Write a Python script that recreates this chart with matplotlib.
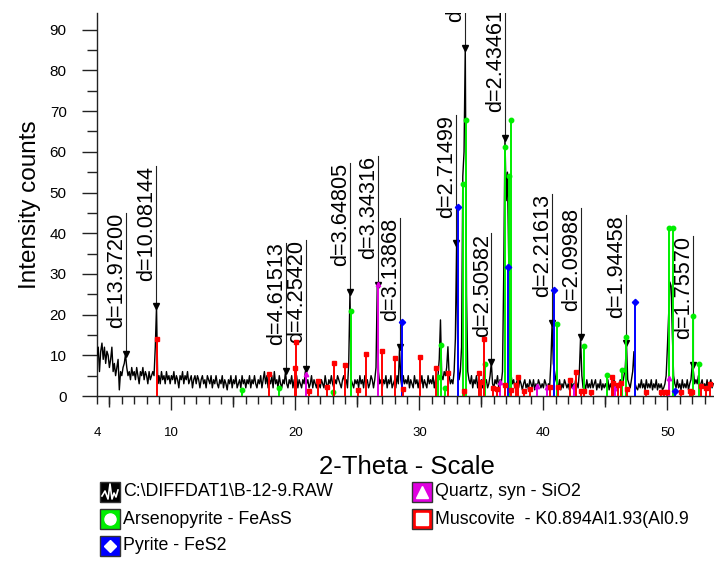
import numpy as np
import matplotlib.pyplot as plt
from matplotlib.lines import Line2D
from matplotlib.patches import Rectangle

plt.rcParams['font.family'] = ['Liberation Sans', 'DejaVu Sans']

# raw scan, 4.0 deg start, 0.1 deg step (counts)
scan_start = 4.0
scan_step = 0.1
counts = [
    10, 12, 6, 11, 13, 9, 12, 8, 11, 10,        # 4
    7, 9, 12, 6, 8, 5, 7, 9, 1.5, 6,            # 5
    5, 7, 8, 10.3, 7, 5, 6, 4, 7, 5,            # 6
    6, 4, 7, 5, 3, 6, 5, 7, 4, 6,               # 7
    5, 3, 6, 4, 5, 6, 5, 12, 22, 3,             # 8
    5, 3, 6, 4, 5, 3, 6, 4, 5, 3,               # 9
    5, 4, 6, 3, 5, 4, 2, 5, 4, 6,               # 10
    3, 5, 4, 6, 3, 4, 5, 2, 4, 5,               # 11
    3, 5, 4, 2, 4, 5, 3, 4, 2, 5,               # 12
    4, 3, 5, 2, 4, 3, 5, 3, 2, 4,               # 13
    3, 5, 2, 4, 3, 1.5, 4, 3, 5, 2,             # 14
    4, 3, 5, 2, 3, 4, 2, 5, 3, 4,               # 15
    2, 4, 3, 5, 2, 4, 3, 5, 3, 2,               # 16
    4, 3, 5, 2, 4, 6, 3, 5, 2, 4,               # 17
    3, 5, 2, 6, 3, 4, 2, 5, 3, 2,               # 18
    4, 3, 6, 3, 2, 4, 3, 5, 2, 4,               # 19
    3, 5, 2, 4, 3, 2, 4, 3, 6, 3,               # 20
    4, 2, 3, 5, 2, 4, 3, 2, 4, 3,               # 21
    2, 4, 3, 2, 5, 3, 2, 4, 3, 5,               # 22
    3, 2, 4, 3, 5, 4, 3, 2, 4, 5,               # 23
    3, 4, 2, 8, 25.6, 4, 3, 2, 4, 3,            # 24
    4, 2, 5, 3, 4, 2, 5, 3, 4, 2,               # 25
    3, 5, 4, 2, 4, 7, 27, 6, 3, 4,              # 26
    2, 4, 3, 5, 2, 4, 3, 5, 2, 3,               # 27
    4, 2, 5, 3, 12, 4, 2, 5, 3, 4,              # 28
    3, 5, 2, 4, 3, 2, 5, 3, 4, 2,               # 29
    4, 3, 5, 2, 4, 3, 2, 5, 3, 4,               # 30
    3, 5, 2, 4, 3, 5, 9, 18.7, 5, 4,            # 31
    6, 5, 7, 12.1, 5, 3, 4, 3, 6, 14,           # 32
    37.5, 9, 4, 6, 12, 54, 60, 86, 25, 6,       # 33
    4, 3, 5, 2, 4, 3, 5, 2, 4, 3,               # 34
    4, 2, 6, 3, 4, 2, 3, 5, 8.3, 3,             # 35
    2, 4, 3, 5, 2, 4, 3, 6, 30, 63.5,           # 36
    48, 55, 34, 10, 5, 3, 4, 2, 3, 4,           # 37
    2, 4, 3, 1.5, 3, 4, 2, 3, 1.5, 4,           # 38
    3, 2, 4, 1.5, 3, 2, 4, 3, 2, 3,             # 39
    2, 4, 3, 1.5, 3, 2, 8, 17.9, 8, 6,          # 40
    4, 3, 2, 4, 1.5, 3, 2, 4, 3, 2,             # 41
    3, 1.5, 4, 2, 3, 2, 4, 3, 2, 6,             # 42
    14.6, 5, 2, 3, 1.5, 4, 2, 3, 2, 4,          # 43
    2, 3, 4, 1.5, 3, 2, 4, 1.5, 3, 2,           # 44
    3, 2, 4, 1.5, 3, 2, 3, 4, 2, 3,             # 45
    2, 3, 4, 2, 3, 5, 7, 12.9, 4, 3,            # 46
    2, 4, 6, 10.9, 3, 2, 1.5, 3, 2, 4,          # 47
    2, 3, 1.5, 4, 2, 3, 2, 4, 1.5, 3,           # 48
    2, 4, 1.5, 3, 2, 3, 1.5, 2, 3, 5,           # 49
    12, 20, 28, 27, 15, 5, 3, 2, 4, 2,          # 50
    3, 1.5, 4, 2, 3, 2, 4, 1.5, 3, 4,           # 51
    7.6, 6, 3, 4, 3, 5, 2, 3, 4, 2,             # 52
    3, 2, 4, 1.5, 3, 4, 2, 3,                   # 53
]
two_theta = scan_start + scan_step * np.arange(len(counts))

# peak labels
peak_labels = ["d=13.97200", "d=10.08144", "d=4.61513", "d=4.25420", "d=3.64805",
               "d=3.34316", "d=3.13868", "d=2.71499", "d=2.65910", "d=2.50582",
               "d=2.43461", "d=2.21613", "d=2.09988", "d=1.94458", "d=1.75570"]
peak_2theta = [6.32, 8.77, 19.22, 20.86, 24.38, 26.64, 28.41, 32.97, 33.68, 35.80,
               36.89, 40.68, 43.04, 46.67, 52.05]
peak_counts = [10.3, 22, 6.1, 6.6, 25.6, 27.3, 12.1, 37.5, 85.6, 8.3,
               63.5, 17.9, 14.6, 12.9, 7.6]

# reference phases (stick patterns)
arseno_pos = [15.7, 18.7, 23.0, 24.48, 31.52, 31.72, 32.06, 33.55, 33.76, 35.3, 36.87,
              37.2, 37.39, 41.1, 43.27, 45.15, 46.3, 46.7, 50.15, 50.47, 52.1, 52.55]
arseno_int = [1.5, 2, 1, 21, 4.7, 12.5, 2, 52, 67.8, 7.9, 61.3,
              54, 67.8, 17.7, 12.4, 5.2, 6.4, 14.4, 41.2, 41.2, 19.7, 7.8]
pyrite_pos = [28.6, 33.14, 37.12, 40.85, 47.4, 50.6]
pyrite_int = [18.3, 46.5, 31.8, 26, 23.2, 1.2]
quartz_pos = [20.86, 26.64, 36.54, 39.46, 40.29, 42.45, 45.79, 50.14]
quartz_int = [5.4, 27.5, 3.5, 2.5, 2.1, 2.5, 1.9, 4.3]
musc_pos = [8.85, 17.9, 19.95, 20.05, 21.1, 21.8, 22.57, 23.1, 24.0, 25.02, 25.7, 26.96,
            28.02, 28.7, 30.05, 31.37, 32.3, 33.57, 34.8, 35.0, 35.22, 35.9, 36.25, 36.9,
            37.39, 37.76, 37.98, 38.44, 38.9, 40.5, 41.15, 42.15, 42.6, 43.0, 43.27, 43.8,
            45.5, 45.62, 46.0, 46.26, 46.72, 48.3, 49.5, 49.75, 50.0, 51.1, 51.8, 52.0,
            52.74, 53.1, 53.4]
musc_int = [14, 5.4, 6.9, 13.3, 1.3, 3.7, 2.1, 8, 7.6, 1.5, 10.2, 11,
            9.4, 1.6, 9.7, 6.8, 5.6, 1.2, 5.7, 3.5, 13.9, 2, 1.7, 2.7,
            1.5, 2.7, 4.7, 1.3, 1.6, 2.1, 2.1, 3.9, 6.0, 1.2, 1.3, 1.0,
            4.6, 3.3, 2.7, 3.2, 1.6, 1.0, 1.0, 1.0, 1.0, 1.0, 1.2, 1.0,
            2.5, 2.0, 3.0]

phases = [
    ("Arsenopyrite - FeAsS", arseno_pos, arseno_int, '#00ee00', 'o'),
    ("Pyrite - FeS2", pyrite_pos, pyrite_int, '#0000ff', 'D'),
    ("Quartz, syn - SiO2", quartz_pos, quartz_int, '#e000e0', '^'),
    ("Muscovite  - K0.894Al1.93(Al0.9", musc_pos, musc_int, '#ff0000', 's'),
]

W, H = 714, 562
fig = plt.figure(figsize=(W / 100, H / 100), dpi=100)
ax = fig.add_axes([97 / W, 1 - 396 / H, 1 - 97 / W, (396 - 13) / H])

ax.plot(two_theta, counts, color='black', lw=1.0, zorder=3)

for name, pos, inten, col, mk in phases:
    ax.vlines(pos, 0, inten, color=col, lw=1.4, zorder=4)
    ax.plot(pos, inten, ls='none', marker=mk, color=col, ms=3.2, zorder=4)

ax.plot(peak_2theta, peak_counts, ls='none', marker='v', color='black', ms=4, zorder=3.5)
texts = []
for lab, tt, h in zip(peak_labels, peak_2theta, peak_counts):
    t = ax.annotate(lab, (tt, h), xytext=(1, 18.5), textcoords='offset points',
                    rotation=90, ha='right', va='bottom', fontsize=15.6,
                    annotation_clip=False, clip_on=True)
    texts.append(t)

ax.set_xlim(4, 4 + (W - 97) / 12.4)
ax.set_ylim(0, (396 - 13) / 4.07)

for s in ['top', 'right']:
    ax.spines[s].set_visible(False)
for s in ['left', 'bottom']:
    ax.spines[s].set_color('#222222')
    ax.spines[s].set_linewidth(1)

ax.set_yticks(np.arange(0, 91, 10))
ax.set_yticks(np.arange(5, 90, 10), minor=True)
ax.tick_params(axis='y', which='major', length=10.8, width=1, pad=11, labelsize=11, colors='#222222')
ax.tick_params(axis='y', which='minor', length=7, width=1, colors='#222222')
ax.set_xticks([4, 10, 20, 30, 40, 50])
ax.set_xticks(np.arange(5, 54, 1), minor=True)
ax.tick_params(axis='x', which='major', length=10, width=1, pad=12, labelsize=9.5, colors='#222222')
ax.tick_params(axis='x', which='minor', length=5.5, width=1, colors='#222222')
ax.xaxis.get_major_ticks()[0].tick1line.set_markersize(5.5)
sec = ax.secondary_xaxis('bottom')
sec.set_xticks([5, 15, 25, 35, 45])
sec.tick_params(length=8, width=1, labelbottom=False, colors='#222222')
sec.spines['bottom'].set_visible(False)
for lab in ax.get_xticklabels() + ax.get_yticklabels():
    lab.set_color('black')

ax.set_ylabel("Intensity counts", fontsize=17.5, labelpad=6)
fig.text(407 / W, 1 - 467 / H, "2-Theta - Scale", fontsize=18.5, ha='center', va='center')

# leader lines from each peak up to the top of its label
fig.canvas.draw()
inv = ax.transData.inverted()
for t, tt, h in zip(texts, peak_2theta, peak_counts):
    bb = t.get_window_extent()
    ytop = inv.transform((0, bb.y1))[1]
    ax.plot([tt, tt], [h, ytop], color='#222222', lw=0.8, zorder=2)

# legend drawn by hand
def px(x, y):
    return x / W, 1 - y / H

box = 20
entries = [("C:\\DIFFDAT1\\B-12-9.RAW", 'black', None, 100, 492),
           (phases[0][0], phases[0][3], phases[0][4], 100, 519),
           (phases[1][0], phases[1][3], phases[1][4], 100, 546),
           (phases[2][0], phases[2][3], phases[2][4], 412, 492),
           (phases[3][0], phases[3][3], phases[3][4], 412, 519)]
for name, col, mk, x0, yc in entries:
    fx, fy = px(x0, yc + box / 2)
    fig.add_artist(Rectangle((fx, fy), box / W, box / H, transform=fig.transFigure,
                             facecolor=col, edgecolor='#333333', lw=1))
    if mk is None:
        zx = [x0 + 2, x0 + 5, x0 + 8, x0 + 10, x0 + 12, x0 + 14, x0 + 16, x0 + 18]
        zy = [yc + 4, yc - 1, yc + 7, yc - 8, yc + 7, yc + 1, yc + 5, yc - 2]
        fig.add_artist(Line2D([v / W for v in zx], [1 - v / H for v in zy],
                              transform=fig.transFigure, color='white', lw=1.2))
    else:
        cx, cy = px(x0 + box / 2, yc)
        fig.add_artist(Line2D([cx], [cy], transform=fig.transFigure, marker=mk,
                              color='white', ms=8 if mk != 'D' else 6.5, ls='none'))
    tx, ty = px(x0 + box + 3, yc)
    fig.text(tx, ty, name, fontsize=12.8, ha='left', va='center')

fig.savefig('out.png', dpi=100)
